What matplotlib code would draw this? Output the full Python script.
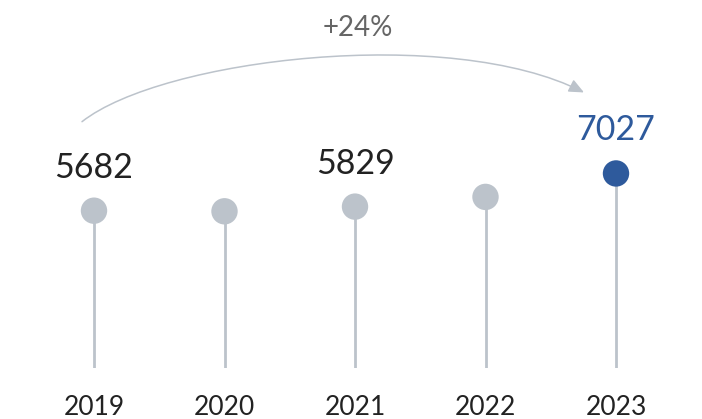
import matplotlib
matplotlib.use("Agg")
import matplotlib.pyplot as plt
import matplotlib.transforms as mtrans
from matplotlib.patches import FancyArrowPatch
from matplotlib.path import Path

# data
years = ["2019", "2020", "2021", "2022", "2023"]
values = [5682, 5660, 5829, 6180, 7027]
labeled = [True, False, True, False, True]
growth_label = "+24%"

GRAY = "#BCC3CB"
BLUE = "#2E5A9C"
TEXT = "#222222"

plt.rcParams["font.family"] = ["Lato", "DejaVu Sans"]

fig = plt.figure(figsize=(7.02, 4.19), dpi=100)
ax = fig.add_axes([0, 51 / 419, 1, 368 / 419])
ax.set_xlim(-94 / 130.5, (702 - 94) / 130.5)
ax.set_ylim(0, 368 * 36.12)
ax.axis("off")

xs = list(range(len(years)))
colors = [GRAY] * (len(years) - 1) + [BLUE]

ax.vlines(xs, 0, values, color=GRAY, linewidth=2, zorder=1)
ax.scatter(xs, values, s=19 ** 2, color=colors, zorder=2, linewidths=0)

for i, (yr, v, show) in enumerate(zip(years, values, labeled)):
    ax.annotate(yr, (i, 0), xytext=(0, -47), textcoords="offset pixels",
                ha="center", va="baseline", fontsize=19, color=TEXT)
    if show:
        c = BLUE if i == len(years) - 1 else TEXT
        ax.annotate(f"{v}", (i, v), xytext=(0, 33), textcoords="offset pixels",
                    ha="center", va="baseline", fontsize=24.5, color=c)

# growth arrow from first label to last label (cubic curve, display pixels)
start = mtrans.offset_copy(ax.transData, fig=fig, x=-12, y=89, units="dots")
end = mtrans.offset_copy(ax.transData, fig=fig, x=-32, y=81, units="dots")
ax0, ay0 = start.transform((0, values[0]))
bx0, by0 = end.transform((len(years) - 1, values[-1]))
curve = Path([(ax0, ay0), (ax0 + 80, ay0 + 63), (bx0 - 134, by0 + 68), (bx0, by0)],
             [Path.MOVETO, Path.CURVE4, Path.CURVE4, Path.CURVE4])
arrow = FancyArrowPatch(path=curve, transform=mtrans.IdentityTransform(),
                        arrowstyle="-|>,head_length=9,head_width=4",
                        color=GRAY, linewidth=1.1, shrinkA=0, shrinkB=0)
fig.patches.append(arrow)

ax.text(2.02, (368 - 36) / 368, growth_label, transform=ax.get_xaxis_transform(),
        ha="center", va="baseline", fontsize=20, color="#666666")

fig.savefig("out.png", dpi=100)
